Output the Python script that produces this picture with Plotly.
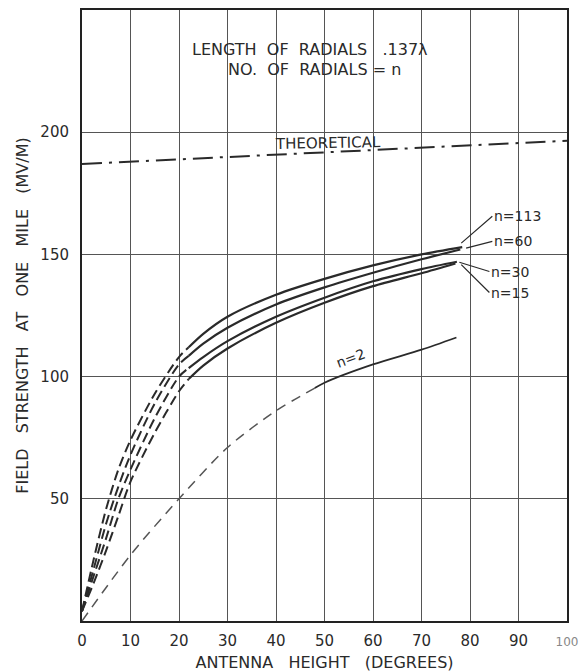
import plotly.graph_objects as go

# ---- data ----
x_dash = [0, 2.5, 5, 7.5, 10, 15, 20, 22]
n113_dash = [4, 26, 46, 62, 74, 93, 108, 112]
n60_dash = [4, 22, 40, 55, 68, 89, 105, 108.5]
n30_dash = [4, 19, 34, 50, 62, 83, 100, 103.5]
n15_dash = [4, 16, 29, 43, 57, 77, 94, 99]

x_solid_113 = [22, 25, 30, 40, 50, 60, 70, 78.4]
n113_solid = [112, 117.5, 124.5, 133.5, 140, 145.5, 150, 153]
x_solid_60 = [22, 25, 30, 40, 50, 60, 70, 78]
n60_solid = [108.5, 113.5, 120, 129.5, 136.5, 142.5, 148, 152]
x_solid_30 = [22, 25, 30, 40, 50, 60, 70, 77.3]
n30_solid = [103.5, 108, 114.5, 124.5, 132.3, 139, 144, 147]
x_solid_15 = [22, 25, 30, 40, 50, 60, 70, 77]
n15_solid = [99, 104.5, 111.5, 122, 130.2, 137, 142.3, 146.3]

x_n2_dash = [0, 10, 20, 30, 40, 48]
n2_dash = [0, 27, 50, 71, 86, 95.3]
x_n2_solid = [48, 50, 60, 70, 77.2]
n2_solid = [95.3, 97.5, 105, 111, 116]

x_theory = [0, 100]
theory = [187, 196.5]

x_ticks = [0, 10, 20, 30, 40, 50, 60, 70, 80, 90, 100]
y_ticks = [50, 100, 150, 200]

labels = ["n=113", "n=60", "n=30", "n=15"]
label_pos = [(84.6, 165.6), (84.6, 155.3), (84.0, 143.0), (84.0, 134.4)]
label_tip = [(78.2, 154.6), (79.2, 152.6), (77.8, 146.8), (78.2, 145.8)]

INK = "#2a2a2a"
FONT = "DejaVu Sans"

fig = go.Figure()

for ys in [n113_dash, n60_dash, n30_dash, n15_dash]:
    fig.add_trace(go.Scatter(x=x_dash, y=ys, mode="lines",
                             line=dict(color=INK, width=2, dash="10px,5px", shape="spline", smoothing=0.8),
                             showlegend=False, hoverinfo="skip"))
for xs, ys in [(x_solid_113, n113_solid), (x_solid_60, n60_solid), (x_solid_30, n30_solid), (x_solid_15, n15_solid)]:
    fig.add_trace(go.Scatter(x=xs, y=ys, mode="lines", line=dict(color=INK, width=2.2, shape="spline", smoothing=0.8),
                             showlegend=False, hoverinfo="skip"))

fig.add_trace(go.Scatter(x=x_n2_dash, y=n2_dash, mode="lines",
                         line=dict(color="#555", width=1.5, dash="10px,7px", shape="spline", smoothing=0.8),
                         showlegend=False, hoverinfo="skip"))
fig.add_trace(go.Scatter(x=x_n2_solid, y=n2_solid, mode="lines",
                         line=dict(color=INK, width=1.8, shape="spline", smoothing=0.8),
                         showlegend=False, hoverinfo="skip"))

fig.add_trace(go.Scatter(x=x_theory, y=theory, mode="lines",
                         line=dict(color=INK, width=2, dash="20px,7px,3px,7px"),
                         showlegend=False, hoverinfo="skip"))

annotations = [
    dict(x=47, y=234, text="LENGTH  OF  RADIALS   .137λ", showarrow=False,
         font=dict(family=FONT, size=16, color=INK)),
    dict(x=48, y=225.5, text="NO.  OF  RADIALS = n", showarrow=False,
         font=dict(family=FONT, size=16, color=INK)),
    dict(x=50.8, y=195.5, text="THEORETICAL", showarrow=False, textangle=-1,
         font=dict(family=FONT, size=15, color=INK)),
    dict(x=55.5, y=107.5, text="n=2", showarrow=False, textangle=-20,
         font=dict(family=FONT, size=14, color=INK)),
]
for lab, (ax, ay), (tx, ty) in zip(labels, label_pos, label_tip):
    annotations.append(dict(x=tx, y=ty, ax=ax, ay=ay, axref="x", ayref="y", xref="x", yref="y",
                            text=lab, showarrow=True, arrowhead=0, arrowwidth=1.2, arrowcolor=INK,
                            xanchor="left", yanchor="middle", standoff=0, startstandoff=0,
                            font=dict(family=FONT, size=14, color=INK)))

x_ticktext = [str(v) for v in x_ticks]
x_ticktext[-1] = "<span style='font-size:12px;color:#888'>100</span>"

fig.update_layout(
    width=580, height=672,
    margin=dict(l=82, r=13, t=10, b=51),
    paper_bgcolor="white", plot_bgcolor="white",
    annotations=annotations,
    font=dict(family=FONT, size=15, color=INK),
    xaxis=dict(range=[0, 100], tickvals=x_ticks, ticktext=x_ticktext,
               showgrid=True, gridcolor="#555", gridwidth=1,
               showline=True, linecolor="#222", linewidth=2, mirror=True,
               ticks="", zeroline=False, ticklabelstandoff=5, automargin=False,
               ticklabeloverflow="allow",
               title=dict(text="ANTENNA   HEIGHT   (DEGREES)", font=dict(family=FONT, size=16, color=INK), standoff=8),
               tickfont=dict(family=FONT, size=15, color=INK)),
    yaxis=dict(range=[0, 250], tickvals=y_ticks, ticktext=[str(v) for v in y_ticks],
               showgrid=True, gridcolor="#555", gridwidth=1,
               showline=True, linecolor="#222", linewidth=2, mirror=True,
               ticks="", zeroline=False, ticklabelstandoff=8, automargin=False,
               title=dict(text="FIELD   STRENGTH   AT   ONE   MILE   (MV/M)", font=dict(family=FONT, size=16, color=INK), standoff=8),
               tickfont=dict(family=FONT, size=15, color=INK)),
)

fig.write_html("out.html", config={"displayModeBar": False},
               post_script="document.body.style.margin='0';document.body.style.overflow='hidden';")
